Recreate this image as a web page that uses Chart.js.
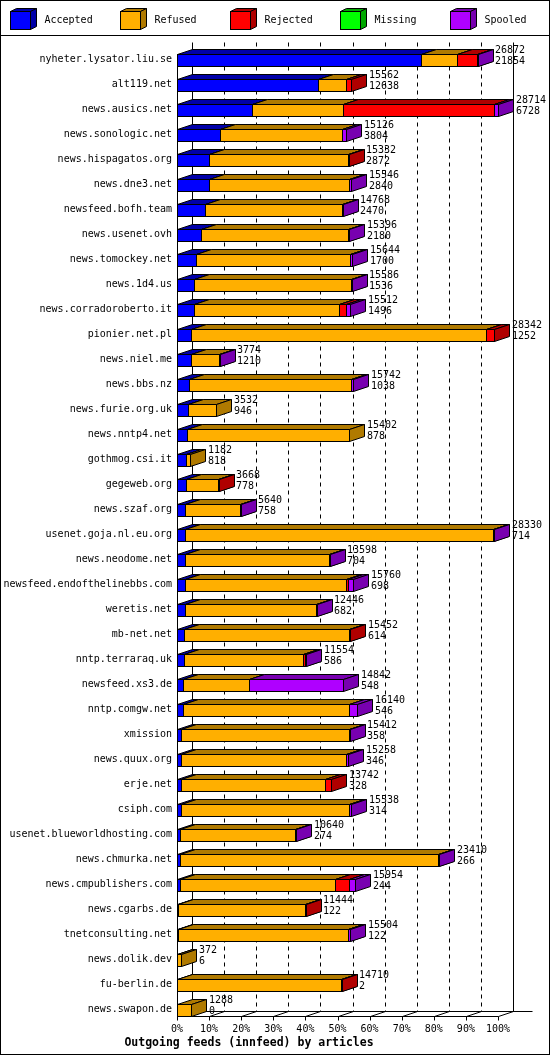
<!DOCTYPE html>
<html>
<head>
<meta charset="utf-8">
<style>
  html, body { margin: 0; padding: 0; background: #fff; }
  #wrap { width: 550px; height: 1055px; }
</style>
<script src="https://cdn.jsdelivr.net/npm/chart.js@4.4.1/dist/chart.umd.min.js"></script>
</head>
<body>
<div id="wrap"><canvas id="feedChart" width="550" height="1055"></canvas></div>
<script>
const hosts = [
    'nyheter.lysator.liu.se', 'alt119.net', 'news.ausics.net', 'news.sonologic.net',
    'news.hispagatos.org', 'news.dne3.net', 'newsfeed.bofh.team', 'news.usenet.ovh',
    'news.tomockey.net', 'news.1d4.us', 'news.corradoroberto.it', 'pionier.net.pl',
    'news.niel.me', 'news.bbs.nz', 'news.furie.org.uk', 'news.nntp4.net',
    'gothmog.csi.it', 'gegeweb.org', 'news.szaf.org', 'usenet.goja.nl.eu.org',
    'news.neodome.net', 'newsfeed.endofthelinebbs.com', 'weretis.net', 'mb-net.net',
    'nntp.terraraq.uk', 'newsfeed.xs3.de', 'nntp.comgw.net', 'xmission',
    'news.quux.org', 'erje.net', 'csiph.com', 'usenet.blueworldhosting.com',
    'news.chmurka.net', 'news.cmpublishers.com', 'news.cgarbs.de', 'tnetconsulting.net',
    'news.dolik.dev', 'fu-berlin.de', 'news.swapon.de',
];
const accepted = [21854, 12638, 6728, 3804, 2872, 2840, 2470, 2180, 1700, 1536, 1496, 1252, 1210,
    1038, 946, 878, 818, 778, 758, 714, 704, 698, 682, 614, 586, 548, 546, 358, 346, 328, 314,
    274, 266, 244, 122, 122, 6, 2, 0];
const refused = [3200, 2480, 8150, 11000, 12390, 12540, 12260, 13146, 13774, 13990, 12964, 26350,
    2550, 14500, 2586, 14524, 364, 2860, 4850, 27516, 12860, 14420, 11720, 14770, 10714, 5922,
    14870, 15000, 14740, 12882, 15090, 10320, 23110, 13916, 11300, 15150, 366, 14668, 1288];
const rejected = [1750, 444, 13500, 0, 70, 0, 0, 0, 0, 0, 660, 740, 0, 0, 0, 0, 0, 30, 0, 0, 0,
    200, 0, 68, 150, 0, 0, 0, 0, 532, 0, 0, 0, 1195, 22, 60, 0, 40, 0];
const missing = [0, 0, 0, 0, 0, 0, 0, 0, 0, 0, 0, 0, 0, 0, 0, 0, 0, 0, 0, 0, 0, 0, 0, 0, 0, 0,
    0, 0, 0, 0, 0, 0, 0, 0, 0, 0, 0, 0, 0];
const spooled = [68, 0, 336, 322, 0, 166, 38, 70, 170, 60, 392, 0, 14, 204, 0, 0, 0, 0, 32, 100,
    34, 442, 44, 0, 104, 8372, 724, 54, 172, 0, 134, 46, 34, 599, 0, 172, 0, 0, 0];

const seriesNames = ['Accepted', 'Refused', 'Rejected', 'Missing', 'Spooled'];
const xTicks = [0, 10, 20, 30, 40, 50, 60, 70, 80, 90, 100];

const series = [accepted, refused, rejected, missing, spooled];
const frontColors = ['#0000ff', '#ffaf00', '#ff0000', '#00ff00', '#af00ff'];
const shadeColors = ['#0000a8', '#b07a00', '#b00000', '#00a800', '#7800b0'];
const totals = hosts.map((h, i) => series.reduce((s, arr) => s + arr[i], 0));
const maxTotal = Math.max(...totals);

const FONT = '"DejaVu Sans Mono", "Liberation Mono", monospace';
const DX = 15, DY = 5;

const px = v => Math.round(v) + 0.5;

function drawBox(ctx, x0, x1, yTop, yBot, dx, dy, front, shade) {
    ctx.fillStyle = front;
    ctx.fillRect(x0, yTop, x1 - x0, yBot - yTop);
    ctx.strokeRect(x0, yTop, x1 - x0, yBot - yTop);
    ctx.fillStyle = shade;
    ctx.beginPath();
    ctx.moveTo(x0, yTop);
    ctx.lineTo(x0 + dx, yTop - dy);
    ctx.lineTo(x1 + dx, yTop - dy);
    ctx.lineTo(x1, yTop);
    ctx.closePath();
    ctx.fill();
    ctx.stroke();
    ctx.beginPath();
    ctx.moveTo(x1, yTop);
    ctx.lineTo(x1 + dx, yTop - dy);
    ctx.lineTo(x1 + dx, yBot - dy);
    ctx.lineTo(x1, yBot);
    ctx.closePath();
    ctx.fill();
    ctx.stroke();
}

// 3d walls, gridlines, boxes, value labels and legend
const innfeed3d = {
    id: 'innfeed3d',
    beforeDatasetsDraw(chart) {
        const ctx = chart.ctx;
        const xs = chart.scales.x;
        const rows = chart.getDatasetMeta(0).data;
        const firstTop = px(rows[0].y - rows[0].height / 2);
        const backTop = firstTop - 12;
        const frontBot = px(rows[rows.length - 1].y + rows[rows.length - 1].height / 2);
        const backBot = frontBot - DY;
        const x0 = px(xs.getPixelForValue(0));
        const x1 = px(xs.getPixelForValue(100));

        ctx.save();
        ctx.strokeStyle = '#000';
        ctx.lineWidth = 1;

        ctx.setLineDash([4, 4]);
        xTicks.slice(1, -1).forEach(v => {
            const xb = px(xs.getPixelForValue(v)) + DX;
            ctx.beginPath();
            ctx.moveTo(xb, backTop);
            ctx.lineTo(xb, backBot);
            ctx.stroke();
        });
        ctx.setLineDash([]);

        ctx.beginPath();
        // left wall
        ctx.moveTo(x0, firstTop);
        ctx.lineTo(x0, frontBot);
        ctx.moveTo(x0 + DX, backTop);
        ctx.lineTo(x0 + DX, backBot);
        // back right
        ctx.moveTo(x1 + DX, backTop);
        ctx.lineTo(x1 + DX, backBot);
        // floor
        ctx.moveTo(x0, frontBot);
        ctx.lineTo(x1, frontBot);
        ctx.moveTo(x0 + DX, backBot);
        ctx.lineTo(x1 + DX + 19, backBot);
        xTicks.forEach(v => {
            const xf = px(xs.getPixelForValue(v));
            ctx.moveTo(xf, frontBot);
            ctx.lineTo(xf + DX, backBot);
            ctx.moveTo(xf, frontBot);
            ctx.lineTo(xf, frontBot + 4);
        });
        ctx.stroke();
        ctx.restore();
    },
    afterDatasetsDraw(chart) {
        const ctx = chart.ctx;
        const xs = chart.scales.x;
        ctx.save();
        ctx.strokeStyle = '#000';
        ctx.lineWidth = 1;
        hosts.forEach((host, i) => {
            series.forEach((arr, d) => {
                if (!arr[i]) return;
                const el = chart.getDatasetMeta(d).data[i];
                const yTop = px(el.y - el.height / 2);
                const yBot = px(el.y + el.height / 2);
                const a = px(el.base);
                const b = px(el.x);
                drawBox(ctx, a, Math.max(b, a + 1), yTop, yBot, DX, DY, frontColors[d], shadeColors[d]);
            });
            const el = chart.getDatasetMeta(0).data[i];
            const endX = Math.round(xs.getPixelForValue(totals[i] / maxTotal * 100));
            ctx.fillStyle = '#000';
            ctx.font = '10px ' + FONT;
            ctx.textAlign = 'left';
            ctx.textBaseline = 'middle';
            ctx.fillText(String(totals[i]), endX + 18, el.y - 9);
            ctx.fillText(String(accepted[i]), endX + 18, el.y + 2);
        });
        ctx.restore();
    },
    afterDraw(chart) {
        const ctx = chart.ctx;
        ctx.save();
        ctx.strokeStyle = '#000';
        ctx.lineWidth = 1;
        ctx.strokeRect(0.5, 0.5, chart.width - 1, chart.height - 1);
        ctx.beginPath();
        ctx.moveTo(0, 35.5);
        ctx.lineTo(chart.width, 35.5);
        ctx.stroke();

        ctx.font = '10px ' + FONT;
        ctx.textAlign = 'left';
        ctx.textBaseline = 'middle';
        seriesNames.forEach((name, d) => {
            const lx = 10.5 + 110 * d;
            drawBox(ctx, lx, lx + 20, 11.5, 29.5, 6, 3, frontColors[d], shadeColors[d]);
            ctx.fillStyle = '#000';
            ctx.fillText(name, lx + 34, 20);
        });
        ctx.restore();
    },
};

new Chart(document.getElementById('feedChart'), {
    type: 'bar',
    data: {
        labels: hosts,
        datasets: seriesNames.map((name, d) => ({
            label: name,
            data: series[d].map(v => v / maxTotal * 100),
            backgroundColor: 'rgba(0,0,0,0)',
            borderWidth: 0,
            barThickness: 12,
        })),
    },
    options: {
        indexAxis: 'y',
        responsive: false,
        animation: false,
        layout: { padding: { top: 47, right: 52, bottom: 5, left: 0 } },
        scales: {
            x: {
                stacked: true,
                min: 0,
                max: 100,
                grid: { display: false, drawTicks: false },
                border: { display: false },
                ticks: {
                    autoSkip: false,
                    maxRotation: 0,
                    padding: 1,
                    color: '#000',
                    font: { family: FONT, size: 10 },
                    callback: v => v + '%',
                },
                afterBuildTicks(scale) {
                    scale.ticks = xTicks.map(value => ({ value }));
                },
                afterFit(scale) {
                    scale.height = 14;
                },
            },
            y: {
                stacked: true,
                grid: { display: false, drawTicks: false },
                border: { display: false },
                ticks: {
                    autoSkip: false,
                    padding: 5,
                    color: '#000',
                    font: { family: FONT, size: 10 },
                },
                afterFit(scale) {
                    scale.width = 177;
                },
            },
        },
        plugins: {
            legend: { display: false },
            tooltip: { enabled: false },
            title: {
                display: true,
                position: 'bottom',
                text: 'Outgoing feeds (innfeed) by articles',
                color: '#000',
                font: { family: FONT, size: 11.5, weight: 'bold' },
                padding: { top: 0, bottom: 0 },
            },
        },
    },
    plugins: [innfeed3d],
});
</script>
</body>
</html>
